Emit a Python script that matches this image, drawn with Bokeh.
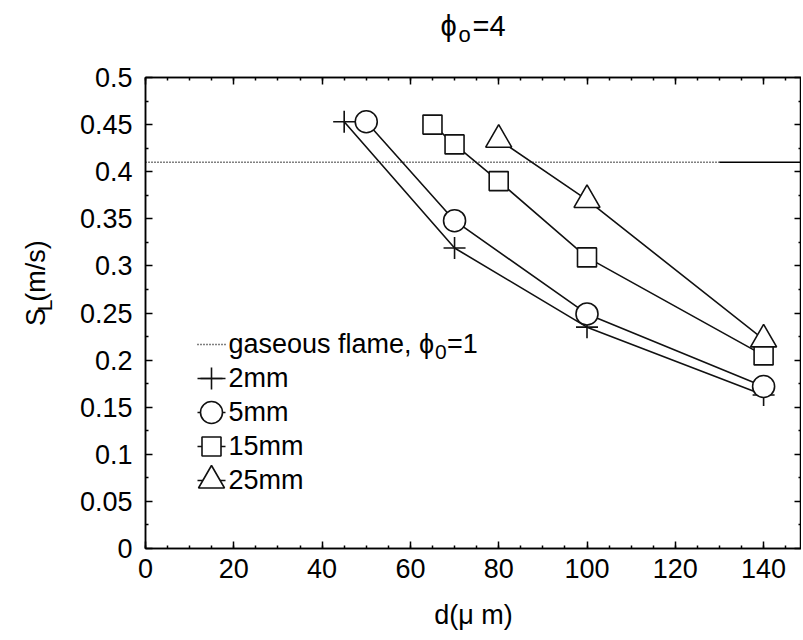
import math
from bokeh.plotting import figure
from bokeh.layouts import column, row
from bokeh.models import (Range1d, LinearAxis, SingleIntervalTicker, FixedTicker,
                          CustomJSTickFormatter, Label)
from bokeh.core.properties import value
from bokeh.embed import file_html
from bokeh.resources import INLINE

# ---------------- data ----------------
d_2mm = [45, 70, 100, 140]
SL_2mm = [0.453, 0.319, 0.235, 0.163]
d_5mm = [50, 70, 100, 140]
SL_5mm = [0.453, 0.348, 0.249, 0.172]
d_15mm = [65, 70, 80, 100, 140]
SL_15mm = [0.450, 0.429, 0.390, 0.309, 0.205]
d_25mm = [80, 100, 140]
SL_25mm = [0.434, 0.370, 0.222]

gas_SL = 0.41
gas_dotted_d = [0, 130]
gas_solid_d = [130, 150]

series_labels = ["2mm", "5mm", "15mm", "25mm"]
series_markers = ["cross", "circle", "square", "triangle"]
series_sizes = [22, 22, 19, 26]
series_d = [d_2mm, d_5mm, d_15mm, d_25mm]
series_SL = [SL_2mm, SL_5mm, SL_15mm, SL_25mm]

x_tick_interval = 20
y_tick_values = [0, 0.05, 0.1, 0.15, 0.2, 0.25, 0.3, 0.35, 0.4, 0.45, 0.5]
y_tick_labels = ["0", "0.05", "0.1", "0.15", "0.2", "0.25", "0.3", "0.35", "0.4", "0.45", "0.5"]

FONT = "Liberation Sans"
FSN = 27
FS = f"{FSN}px"
FS_SUB = "21px"
FS_TITLE = "29px"
FS_TITLE_SUB = "22px"

# ---------------- layout (page pixels) ----------------
FL, FT, FB = 145, 77, 548      # frame left / top / bottom on page
SX, SY = 4.415, 942.0          # px per data unit
FW, FH = 656, FB - FT
TH = 60                        # title strip height
YW = 65                        # y-label strip width
BOT = 90
MH = (FT - TH) + FH + BOT      # main figure height
BASE_FIX = 10                  # empirical baseline correction for text


def dx(px):
    return (px - FL) / SX


def dy(py):
    return (FB - py) / SY


p = figure(frame_width=FW, frame_height=FH,
           x_range=Range1d(0, FW / SX), y_range=Range1d(0, 0.5),
           min_border_left=FL - YW, min_border_right=0, min_border_top=FT - TH,
           min_border_bottom=BOT, output_backend="svg", toolbar_location=None, title=None)
p.xgrid.visible = False
p.ygrid.visible = False
p.outline_line_color = "black"
p.outline_line_width = 1.5
p.background_fill_color = "white"
p.border_fill_color = "white"

x_ticker = SingleIntervalTicker(interval=x_tick_interval, num_minor_ticks=4)
y_minor = [v + 0.025 for v in y_tick_values[:-1]]
y_ticker = FixedTicker(ticks=y_tick_values, minor_ticks=y_minor)


def style_axis(ax):
    ax.axis_line_color = "black"
    ax.axis_line_width = 1.5
    ax.major_tick_in = 7
    ax.major_tick_out = 0
    ax.minor_tick_in = 3
    ax.minor_tick_out = 0
    ax.major_tick_line_width = 1.5
    ax.minor_tick_line_width = 1.5
    ax.major_tick_line_color = "black"
    ax.minor_tick_line_color = "black"
    ax.major_label_text_font = FONT
    ax.major_label_text_font_size = FS
    ax.major_label_text_color = "black"


xa = p.xaxis[0]
xa.ticker = x_ticker
style_axis(xa)
xa.major_label_standoff = 10
xa.axis_label = "d(μ m)"
xa.axis_label_text_font = FONT
xa.axis_label_text_font_size = FS
xa.axis_label_text_font_style = "normal"
xa.axis_label_text_color = "black"
xa.axis_label_standoff = 19

ya = p.yaxis[0]
ya.ticker = y_ticker
style_axis(ya)
ya.major_label_standoff = 13
ya.major_label_overrides = {v: t for v, t in zip(y_tick_values, y_tick_labels)}

blank = CustomJSTickFormatter(code="return ''")
top = LinearAxis(ticker=x_ticker, formatter=blank, major_label_standoff=0)
style_axis(top)
top.major_label_text_font_size = "1px"
p.add_layout(top, "above")
right = LinearAxis(ticker=y_ticker, formatter=blank, major_label_standoff=0)
style_axis(right)
right.major_label_text_font_size = "1px"
p.add_layout(right, "right")

# ---------------- gaseous flame reference line ----------------
p.line(gas_dotted_d, [gas_SL] * len(gas_dotted_d), line_color="black", line_width=1.5, line_dash="1 2")
p.line(gas_solid_d, [gas_SL] * len(gas_solid_d), line_color="black", line_width=1.5)

# ---------------- series ----------------
for d, s, mk, sz in zip(series_d, series_SL, series_markers, series_sizes):
    p.line(d, s, line_color="#111111", line_width=1.6)
    p.scatter(d, s, marker=mk, size=sz, line_color="#111111", line_width=1.6,
              fill_color="white")


# ---------------- in-frame text helper (screen units, frame-relative) ----------------
def text_label(X, Y, txt, size=FS):
    lab = Label(x=X - FL, y=FB - (Y - BASE_FIX), x_units="screen", y_units="screen",
                text=txt, text_font=FONT, text_font_size=size, text_color="black",
                text_align="left", text_baseline="alphabetic", level="overlay")
    p.add_layout(lab)
    return lab


# ---------------- legend (manual, gnuplot style) ----------------
LEG_TOP, ROW_H = 344, 34
GX0, GX1, GXM, TX = 197, 225, 211, 228
rows = [LEG_TOP + i * ROW_H for i in range(len(series_labels) + 1)]
CAP_MID = 0.358 * FSN

yc = rows[0]
p.line([dx(GX0), dx(GX1)], [dy(yc), dy(yc)], line_color="black", line_width=1.5, line_dash="1 2")
base = yc + CAP_MID
w_gas = 7.059 * FSN
text_label(TX, base, "gaseous flame, ")
text_label(TX + w_gas, base, "ϕ")
text_label(TX + w_gas + 16, base + 8, "0", FS_SUB)
text_label(TX + w_gas + 28, base, "=1")

for i, (lab, mk, sz) in enumerate(zip(series_labels, series_markers, series_sizes)):
    yc = rows[i + 1]
    p.line([dx(GX0), dx(GX1)], [dy(yc), dy(yc)], line_color="#111111", line_width=1.5)
    p.scatter([dx(GXM)], [dy(yc)], marker=mk, size=sz, line_color="#111111", line_width=1.6,
              fill_color="white")
    text_label(TX, yc + CAP_MID, lab)


# ---------------- strip figures for the title and the y-axis label ----------------
def strip(w, h):
    f = figure(width=w, height=h, x_range=Range1d(0, w), y_range=Range1d(0, h),
               min_border=0, x_axis_type=None, y_axis_type=None,
               output_backend="svg", toolbar_location=None, title=None)
    f.xgrid.visible = False
    f.ygrid.visible = False
    f.outline_line_color = None
    f.background_fill_color = "white"
    f.border_fill_color = "white"
    return f


tf = strip(FL + FW, TH)
title_parts = [(440, 35, "ϕ", FS_TITLE), (458, 44, "o", FS_TITLE_SUB), (472, 35, "=4", FS_TITLE)]
for X, Y, txt, size in title_parts:
    tf.text(x=[X], y=[TH - (Y - BASE_FIX)], text=[txt], text_font=value(FONT),
            text_font_size=size, text_color="black", text_align="left",
            text_baseline="alphabetic")

yf = strip(YW, MH)
Y0 = 365
ylab_parts = [(45, Y0, "S", FS), (54, Y0 - 18.0, "L", FS_SUB),
              (45, Y0 - 18.0 - 11.7, "(m/s)", FS)]
for X, Y, txt, size in ylab_parts:
    yf.text(x=[X - BASE_FIX], y=[MH - (Y - TH)], text=[txt], text_font=value(FONT),
            text_font_size=size, text_color="black", text_align="left",
            text_baseline="alphabetic", angle=math.pi / 2)

layout = column(tf, row(yf, p, spacing=0), spacing=0)
open("out.html", "w").write(file_html(layout, INLINE))
